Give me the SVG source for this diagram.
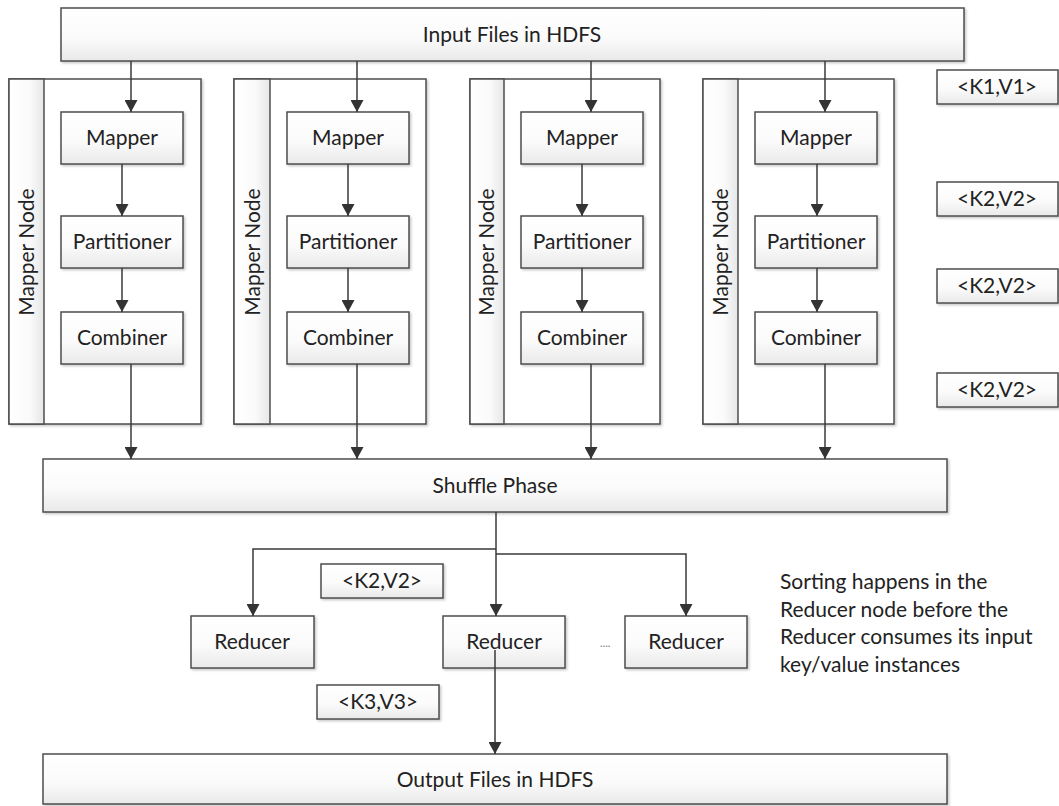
<svg xmlns="http://www.w3.org/2000/svg" width="1059" height="806" viewBox="0 0 1059 806">
  <defs>
    <linearGradient id="boxFill" x1="0" y1="0" x2="0" y2="1">
      <stop offset="0" stop-color="#ffffff"/>
      <stop offset="0.55" stop-color="#fbfbfb"/>
      <stop offset="1" stop-color="#e9e9e9"/>
    </linearGradient>
    <linearGradient id="stripFill" x1="0" y1="0" x2="1" y2="0">
      <stop offset="0" stop-color="#ffffff"/>
      <stop offset="0.6" stop-color="#fafafa"/>
      <stop offset="1" stop-color="#e6e6e6"/>
    </linearGradient>
    <filter id="shadow" x="-5%" y="-5%" width="115%" height="130%">
      <feDropShadow dx="1.5" dy="1.5" stdDeviation="1.2" flood-color="#000" flood-opacity="0.22"/>
    </filter>
    <marker id="arrow" viewBox="0 0 12 13" refX="12" refY="6.5" markerWidth="12" markerHeight="13" markerUnits="userSpaceOnUse" orient="auto">
      <path d="M0,0 L12,6.5 L0,13 Z" fill="#333"/>
    </marker>
  </defs>
  <style>
    .box { fill: url(#boxFill); stroke: #4d4d4d; stroke-width: 1.5; filter: url(#shadow); }
    .frame { fill: #ffffff; stroke: #4d4d4d; stroke-width: 1.5; filter: url(#shadow); }
    .strip { fill: url(#stripFill); stroke: #4d4d4d; stroke-width: 1.5; }
    .lbl { font-family: Lato, "Liberation Sans", sans-serif; font-size: 21px; fill: #222; text-anchor: middle; }
    .note { font-family: Lato, "Liberation Sans", sans-serif; font-size: 21px; fill: #222; }
    .conn { fill: none; stroke: #3a3a3a; stroke-width: 1.5; }
    .arr { marker-end: url(#arrow); }
  </style>

  <rect width="1059" height="806" fill="#ffffff"/>

  <!-- HDFS input -->
  <g id="input-files">
    <rect class="box" x="61" y="8" width="903" height="53"/>
    <text class="lbl" x="512" y="42">Input Files in HDFS</text>
  </g>

  <!-- Mapper node 1 -->
  <g id="mapper-node-1">
    <rect class="frame" x="9" y="79" width="192" height="345"/>
    <rect class="strip" x="9" y="79" width="35" height="345"/>
    <text class="lbl" transform="translate(34,252) rotate(-90)">Mapper Node</text>
  </g>
  <g id="mapper-1"><rect class="box" x="61" y="112" width="122" height="52"/><text class="lbl" x="122" y="145">Mapper</text></g>
  <g id="partitioner-1"><rect class="box" x="61" y="216" width="122" height="52"/><text class="lbl" x="122" y="249">Partitioner</text></g>
  <g id="combiner-1"><rect class="box" x="61" y="312" width="122" height="52"/><text class="lbl" x="122" y="345">Combiner</text></g>

  <!-- Mapper node 2 -->
  <g id="mapper-node-2">
    <rect class="frame" x="234" y="79" width="192" height="345"/>
    <rect class="strip" x="234" y="79" width="36" height="345"/>
    <text class="lbl" transform="translate(260,252) rotate(-90)">Mapper Node</text>
  </g>
  <g id="mapper-2"><rect class="box" x="287" y="112" width="122" height="52"/><text class="lbl" x="348" y="145">Mapper</text></g>
  <g id="partitioner-2"><rect class="box" x="287" y="216" width="122" height="52"/><text class="lbl" x="348" y="249">Partitioner</text></g>
  <g id="combiner-2"><rect class="box" x="287" y="312" width="122" height="52"/><text class="lbl" x="348" y="345">Combiner</text></g>

  <!-- Mapper node 3 -->
  <g id="mapper-node-3">
    <rect class="frame" x="470" y="79" width="190" height="345"/>
    <rect class="strip" x="470" y="79" width="34" height="345"/>
    <text class="lbl" transform="translate(494,252) rotate(-90)">Mapper Node</text>
  </g>
  <g id="mapper-3"><rect class="box" x="521" y="112" width="122" height="52"/><text class="lbl" x="582" y="145">Mapper</text></g>
  <g id="partitioner-3"><rect class="box" x="521" y="216" width="122" height="52"/><text class="lbl" x="582" y="249">Partitioner</text></g>
  <g id="combiner-3"><rect class="box" x="521" y="312" width="122" height="52"/><text class="lbl" x="582" y="345">Combiner</text></g>

  <!-- Mapper node 4 -->
  <g id="mapper-node-4">
    <rect class="frame" x="703" y="79" width="191" height="345"/>
    <rect class="strip" x="703" y="79" width="35" height="345"/>
    <text class="lbl" transform="translate(728,252) rotate(-90)">Mapper Node</text>
  </g>
  <g id="mapper-4"><rect class="box" x="755" y="112" width="122" height="52"/><text class="lbl" x="816" y="145">Mapper</text></g>
  <g id="partitioner-4"><rect class="box" x="755" y="216" width="122" height="52"/><text class="lbl" x="816" y="249">Partitioner</text></g>
  <g id="combiner-4"><rect class="box" x="755" y="312" width="122" height="52"/><text class="lbl" x="816" y="345">Combiner</text></g>

  <!-- key/value type tags -->
  <g id="tag-k1v1"><rect class="box" x="937" y="70" width="121" height="34"/><text class="lbl" x="997" y="94">&lt;K1,V1&gt;</text></g>
  <g id="tag-k2v2-a"><rect class="box" x="937" y="182" width="121" height="34"/><text class="lbl" x="997" y="206">&lt;K2,V2&gt;</text></g>
  <g id="tag-k2v2-b"><rect class="box" x="937" y="269" width="121" height="34"/><text class="lbl" x="997" y="293">&lt;K2,V2&gt;</text></g>
  <g id="tag-k2v2-c"><rect class="box" x="937" y="373" width="121" height="34"/><text class="lbl" x="997" y="397">&lt;K2,V2&gt;</text></g>

  <!-- Shuffle -->
  <g id="shuffle-phase">
    <rect class="box" x="43" y="459" width="904" height="53"/>
    <text class="lbl" x="495" y="493">Shuffle Phase</text>
  </g>

  <!-- Reducers -->
  <g id="reducer-1"><rect class="box" x="191" y="616" width="123" height="52"/><text class="lbl" x="252" y="649">Reducer</text></g>
  <g id="reducer-2"><rect class="box" x="443" y="616" width="122" height="52"/><text class="lbl" x="504" y="649">Reducer</text></g>
  <g id="reducer-3"><rect class="box" x="625" y="616" width="122" height="52"/><text class="lbl" x="686" y="649">Reducer</text></g>
  <g id="ellipsis"><text x="600" y="647" font-family="Lato, 'Liberation Sans', sans-serif" font-size="11" fill="#777">....</text></g>

  <g id="tag-k2v2-reduce"><rect class="box" x="321" y="564" width="122" height="34"/><text class="lbl" x="382" y="588">&lt;K2,V2&gt;</text></g>
  <g id="tag-k3v3"><rect class="box" x="317" y="685" width="122" height="34"/><text class="lbl" x="378" y="709">&lt;K3,V3&gt;</text></g>

  <g id="sorting-note">
    <text class="note" x="780" y="589">Sorting happens in the</text>
    <text class="note" x="780" y="617">Reducer node before the</text>
    <text class="note" x="780" y="644">Reducer consumes its input</text>
    <text class="note" x="780" y="672">key/value instances</text>
  </g>

  <!-- Output -->
  <g id="output-files">
    <rect class="box" x="43" y="754" width="904" height="50"/>
    <text class="lbl" x="495" y="787">Output Files in HDFS</text>
  </g>

  <!-- Connectors -->
  <g id="connectors">
    <path class="conn arr" d="M131,61 V112"/>
    <path class="conn arr" d="M357,61 V112"/>
    <path class="conn arr" d="M591,61 V112"/>
    <path class="conn arr" d="M825,61 V112"/>

    <path class="conn arr" d="M122,164 V216"/>
    <path class="conn arr" d="M348,164 V216"/>
    <path class="conn arr" d="M582,164 V216"/>
    <path class="conn arr" d="M817,164 V216"/>

    <path class="conn arr" d="M122,268 V312"/>
    <path class="conn arr" d="M348,268 V312"/>
    <path class="conn arr" d="M582,268 V312"/>
    <path class="conn arr" d="M817,268 V312"/>

    <path class="conn arr" d="M131,364 V459"/>
    <path class="conn arr" d="M357,364 V459"/>
    <path class="conn arr" d="M591,364 V459"/>
    <path class="conn arr" d="M825,364 V459"/>

    <path class="conn arr" d="M496,512 V616"/>
    <path class="conn arr" d="M496,549 H253 V616"/>
    <path class="conn arr" d="M496,554 H686 V616"/>

    <path class="conn arr" d="M495,650 V754"/>
  </g>
</svg>
